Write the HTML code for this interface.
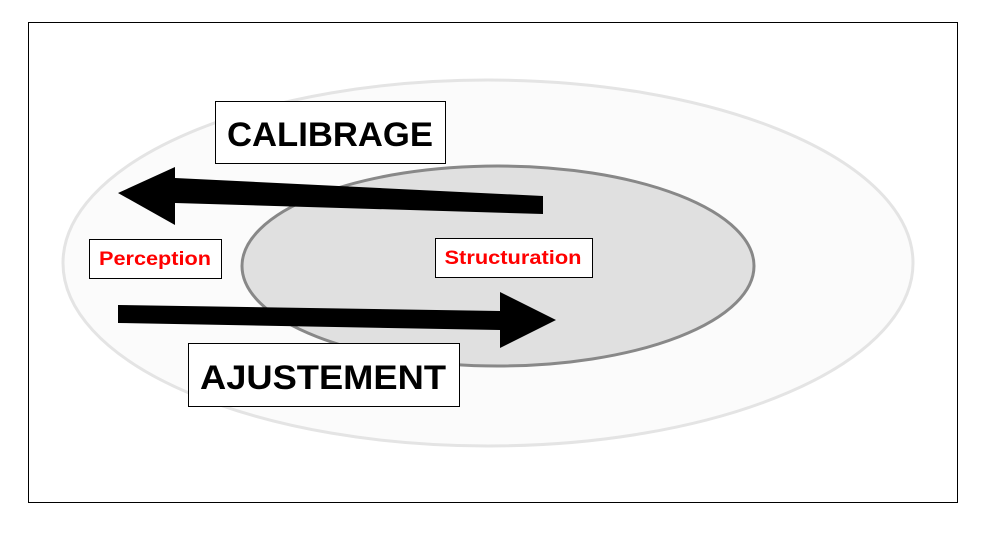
<!DOCTYPE html>
<html><head><style>
body{margin:0;background:#fff;}
svg{display:block;}
text{font-family:"Liberation Sans",sans-serif;font-weight:bold;}
</style></head><body>
<svg width="984" height="535" viewBox="0 0 984 535" xmlns="http://www.w3.org/2000/svg">
<rect x="28.5" y="22.5" width="929" height="480" fill="#fff" stroke="#000" stroke-width="1"/>
<ellipse cx="488" cy="263" rx="425" ry="183" fill="#fbfbfb" stroke="#e4e4e4" stroke-width="3"/>
<ellipse cx="498" cy="266" rx="256" ry="100" fill="#e0e0e0" stroke="#888" stroke-width="3"/>
<polygon points="118,193 175,167 175,178 543,196 543,214 175,203 175,225" fill="#000"/>
<polygon points="118,305 500,311 500,292 556,320 500,348 500,330 118,323" fill="#000"/>
<rect x="215.5" y="101.5" width="230" height="62" fill="#fff" stroke="#000"/>
<text x="330" y="146" font-size="34" text-anchor="middle" textLength="206" lengthAdjust="spacingAndGlyphs">CALIBRAGE</text>
<rect x="188.5" y="343.5" width="271" height="63" fill="#fff" stroke="#000"/>
<text x="323" y="389" font-size="34" text-anchor="middle" textLength="246" lengthAdjust="spacingAndGlyphs">AJUSTEMENT</text>
<rect x="89.5" y="239.5" width="132" height="39" fill="#fff" stroke="#000"/>
<text x="155" y="265" font-size="19" fill="#f00" text-anchor="middle" textLength="112" lengthAdjust="spacingAndGlyphs">Perception</text>
<rect x="435.5" y="238.5" width="157" height="39" fill="#fff" stroke="#000"/>
<text x="513" y="264" font-size="19" fill="#f00" text-anchor="middle" textLength="137" lengthAdjust="spacingAndGlyphs">Structuration</text>
</svg>
</body></html>
